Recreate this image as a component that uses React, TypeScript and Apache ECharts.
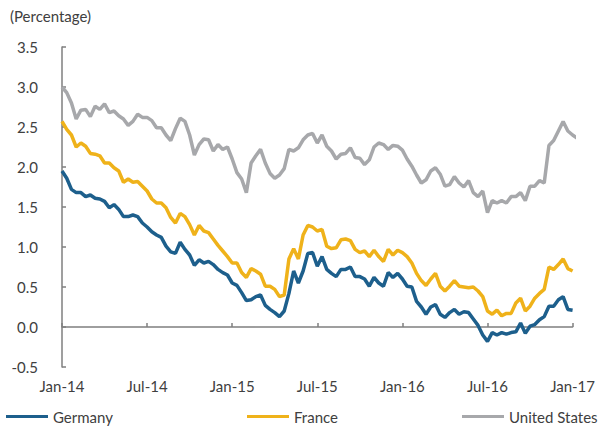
import React, { useEffect, useRef } from "react";
import * as echarts from "echarts";

const tickLabels = ["Jan-14", "Jul-14", "Jan-15", "Jul-15", "Jan-16", "Jul-16", "Jan-17"];

const germany = [
  1.95, 1.86, 1.72, 1.68, 1.68, 1.63, 1.65, 1.61, 1.60, 1.57,
  1.49, 1.53, 1.47, 1.38, 1.38, 1.40, 1.38, 1.30, 1.25, 1.19,
  1.15, 1.12, 1.01, 0.94, 0.92, 1.06, 0.97, 0.90, 0.77, 0.84,
  0.80, 0.82, 0.78, 0.72, 0.68, 0.65, 0.55, 0.52, 0.43, 0.33,
  0.34, 0.38, 0.40, 0.27, 0.22, 0.18, 0.13, 0.20, 0.42, 0.70,
  0.55, 0.70, 0.92, 0.93, 0.76, 0.88, 0.72, 0.67, 0.63, 0.72,
  0.72, 0.75, 0.63, 0.63, 0.60, 0.51, 0.62, 0.55, 0.51, 0.68,
  0.62, 0.67, 0.60, 0.51, 0.50, 0.32, 0.25, 0.16, 0.25, 0.28,
  0.16, 0.12, 0.18, 0.22, 0.16, 0.19, 0.18, 0.10, 0.02, -0.10,
  -0.18, -0.07, -0.10, -0.07, -0.09, -0.07, -0.06, 0.05, -0.08, 0.01,
  0.03, 0.09, 0.13, 0.26, 0.26, 0.34, 0.38, 0.22, 0.21,
];

const france = [
  2.57, 2.47, 2.40, 2.25, 2.30, 2.26, 2.17, 2.16, 2.14, 2.05,
  2.05, 1.99, 1.95, 1.81, 1.85, 1.81, 1.82, 1.76, 1.70, 1.60,
  1.55, 1.55, 1.49, 1.37, 1.30, 1.42, 1.38, 1.28, 1.15, 1.27,
  1.20, 1.18, 1.10, 1.02, 0.95, 0.88, 0.80, 0.80, 0.68, 0.62,
  0.73, 0.70, 0.66, 0.51, 0.51, 0.47, 0.38, 0.40, 0.85, 0.98,
  0.85, 1.15, 1.27, 1.25, 1.20, 1.22, 1.01, 0.98, 0.99, 1.09,
  1.10, 1.08, 0.97, 0.93, 0.95, 0.88, 0.96, 0.88, 0.82, 0.97,
  0.90, 0.96, 0.93, 0.88, 0.80, 0.67, 0.58, 0.52, 0.60, 0.67,
  0.51, 0.45, 0.51, 0.58, 0.51, 0.50, 0.49, 0.50, 0.45, 0.38,
  0.20, 0.16, 0.21, 0.14, 0.17, 0.17, 0.30, 0.36, 0.20, 0.26,
  0.36, 0.42, 0.47, 0.75, 0.72, 0.78, 0.85, 0.73, 0.70,
];

const unitedStates = [
  3.00, 2.93, 2.80, 2.60, 2.71, 2.72, 2.63, 2.76, 2.72, 2.79,
  2.68, 2.70, 2.64, 2.60, 2.52, 2.57, 2.66, 2.62, 2.62, 2.58,
  2.49, 2.49, 2.40, 2.33, 2.48, 2.61, 2.57, 2.40, 2.15, 2.28,
  2.35, 2.34, 2.20, 2.28, 2.22, 2.25, 2.10, 1.93, 1.85, 1.68,
  2.05, 2.14, 2.22, 2.05, 1.92, 1.86, 1.90, 1.98, 2.22, 2.20,
  2.24, 2.34, 2.40, 2.42, 2.30, 2.40, 2.26, 2.20, 2.10, 2.16,
  2.17, 2.24, 2.12, 2.11, 2.03, 2.09, 2.25, 2.30, 2.28, 2.22,
  2.27, 2.26, 2.21, 2.10, 2.01, 1.90, 1.80, 1.84, 1.95, 1.99,
  1.91, 1.76, 1.78, 1.88, 1.80, 1.75, 1.83, 1.68, 1.63, 1.70,
  1.43, 1.58, 1.55, 1.58, 1.55, 1.63, 1.63, 1.68, 1.58, 1.76,
  1.76, 1.83, 1.80, 2.27, 2.33, 2.45, 2.57, 2.45, 2.40, 2.36,
  2.43,
];

const FONT = "Lato";
const TEXT = "#404040";
const AXIS = "#7f7f7f";

export default function App() {
  const ref = useRef<HTMLDivElement>(null);
  useEffect(() => {
    if (!ref.current) return;
    const chart = echarts.init(ref.current, undefined, { renderer: "svg" });
    const toPairs = (arr: number[]) => arr.map((v, i) => [i, v]);
    const legendBase = {
      top: 409,
      icon: "rect",
      itemWidth: 42,
      itemHeight: 3,
      padding: 0,
      textStyle: { fontFamily: FONT, fontSize: 15, color: TEXT },
    };
    chart.setOption({
      animation: false,
      title: {
        text: "(Percentage)",
        left: 10,
        top: 8,
        padding: 0,
        textStyle: { fontFamily: FONT, fontSize: 15, fontWeight: "normal", color: TEXT },
      },
      grid: { left: 62, right: 16, top: 47, bottom: 61, containLabel: false },
      legend: [
        { ...legendBase, left: 6, data: ["Germany"] },
        { ...legendBase, left: 247, data: ["France"] },
        { ...legendBase, left: 462, data: ["United States"] },
      ],
      xAxis: [
        {
          type: "value",
          min: 0,
          max: 108,
          interval: 18,
          position: "bottom",
          axisLine: { show: true, onZero: true, lineStyle: { color: AXIS, width: 1.5 } },
          axisTick: { show: true, inside: true, length: 4, lineStyle: { color: AXIS, width: 1.5 } },
          axisLabel: { show: false },
          splitLine: { show: false },
        },
        {
          type: "value",
          min: 0,
          max: 108,
          interval: 18,
          position: "bottom",
          axisLine: { show: false, onZero: false },
          axisTick: { show: false },
          axisLabel: {
            margin: 11,
            fontFamily: FONT,
            fontSize: 15,
            color: TEXT,
            formatter: (v: number) => tickLabels[Math.round(v / 18)] ?? "",
          },
          splitLine: { show: false },
        },
      ],
      yAxis: {
        type: "value",
        min: -0.5,
        max: 3.5,
        interval: 0.5,
        axisLine: { show: true, lineStyle: { color: AXIS, width: 1.5 } },
        axisTick: { show: true, inside: true, length: 4, lineStyle: { color: AXIS, width: 1.5 } },
        axisLabel: {
          margin: 24,
          fontFamily: FONT,
          fontSize: 15,
          color: TEXT,
          formatter: (v: number) => v.toFixed(1),
        },
        splitLine: { show: false },
      },
      series: [
        {
          name: "United States",
          type: "line",
          xAxisIndex: 0,
          data: toPairs(unitedStates),
          showSymbol: false,
          clip: false,
          color: "#a7a8ab",
          lineStyle: { width: 3.5, color: "#a7a8ab" },
        },
        {
          name: "France",
          type: "line",
          xAxisIndex: 0,
          data: toPairs(france),
          showSymbol: false,
          color: "#efb21a",
          lineStyle: { width: 3.5, color: "#efb21a" },
        },
        {
          name: "Germany",
          type: "line",
          xAxisIndex: 0,
          data: toPairs(germany),
          showSymbol: false,
          color: "#1d5f8c",
          lineStyle: { width: 3.5, color: "#1d5f8c" },
        },
      ],
    });
    return () => chart.dispose();
  }, []);
  return <div ref={ref} style={{ width: 598, height: 428, position: "absolute", left: 0, top: 0 }} />;
}
